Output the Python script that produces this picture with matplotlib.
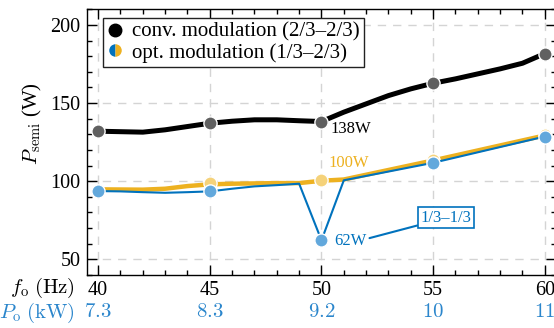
import numpy as np
import matplotlib
matplotlib.use('agg')
import matplotlib.pyplot as plt
from matplotlib.lines import Line2D
from matplotlib.ticker import MultipleLocator

plt.rcParams['font.family'] = 'serif'
plt.rcParams['font.serif'] = ['Liberation Serif', 'DejaVu Serif']
plt.rcParams['mathtext.fontset'] = 'cm'

# conventional modulation (2/3-2/3), line
conv_f = [40, 41, 42, 43, 44, 45, 46, 47, 48, 49, 50, 51, 52, 53, 54, 55, 56, 57, 58, 59, 60]
conv_p = [132.0, 131.7, 131.4, 132.9, 135.0, 137.1, 138.4, 139.3, 139.3, 138.7, 138.2,
          144.2, 149.5, 154.8, 159.1, 162.7, 165.5, 168.7, 171.9, 175.5, 181.7]

# optimised modulation (1/3-2/3), thick yellow line
opt_f = [40, 41, 42, 43, 44, 45, 46, 47, 48, 49, 50, 51, 55, 60]
opt_p = [94.8, 94.7, 94.6, 95.2, 96.9, 98.0, 98.4, 98.6, 98.8, 98.8, 100.3, 101.1, 113.3, 129.3]

# optimised modulation incl. 1/3-1/3 at 50 Hz, thin blue line
opt2_f = [40, 41, 42, 43, 44, 45, 46, 47, 48, 49, 50, 51, 55, 60]
opt2_p = [93.7, 93.5, 93.0, 92.6, 93.0, 93.5, 95.2, 96.7, 97.5, 98.4, 62.2, 100.6, 111.8, 128.6]

# marked operating points
mark_f = [40, 45, 50, 55, 60]
conv_mark = [132.0, 137.1, 138.2, 162.7, 181.7]
opt_mark = [94.8, 98.8, 100.5, 113.3, 129.3]
opt2_mark = [93.7, 93.5, 62.2, 111.8, 128.6]

f_ticks = [40, 45, 50, 55, 60]
p_out = ['7.3', '8.3', '9.2', '10', '11']

BLACK = '#000000'
GREY = '#606060'
YEL = '#EDB120'
YEL_L = '#F5D27A'
BLUE = '#0072BD'
BLUE_L = '#62A8DC'
BLUE_T = '#2B86CC'

fig = plt.figure(figsize=(5.54, 3.28), dpi=100)
ax = fig.add_axes([0.157, 0.1616, 0.8466, 0.81])

ax.plot(opt_f, opt_p, color=YEL, lw=3.2, zorder=3, solid_capstyle='round')
ax.plot(f_ticks[1:], opt_mark[1:], 'o', ms=9.5, mfc=YEL_L, mec='white', mew=1.0, zorder=4)
ax.plot(opt2_f, opt2_p, color=BLUE, lw=1.5, zorder=5)
ax.plot(mark_f, opt2_mark, 'o', ms=9.5, mfc=BLUE_L, mec='white', mew=1.0, zorder=6)
ax.plot(conv_f, conv_p, color=BLACK, lw=3.6, zorder=7, solid_capstyle='round')
ax.plot(mark_f, conv_mark, 'o', ms=9.5, mfc=GREY, mec='white', mew=1.0, zorder=8)

ax.set_xlim(39.5, 60.5)
ax.set_ylim(40, 210)
ax.xaxis.set_major_locator(MultipleLocator(5))
ax.xaxis.set_minor_locator(MultipleLocator(1))
ax.yaxis.set_major_locator(MultipleLocator(50))
ax.yaxis.set_minor_locator(MultipleLocator(10))
ax.tick_params(which='both', direction='in', top=True, right=True, labelsize=14.5, width=1)
ax.tick_params(which='major', length=7, pad=4.5)
ax.tick_params(which='minor', length=3.5)
for s in ax.spines.values():
    s.set_linewidth(1)
ax.grid(True, which='major', color='#d4d4d4', lw=1, dashes=(6, 5))
ax.set_axisbelow(True)

ax.set_ylabel(r'$P_\mathrm{semi}$ (W)', fontsize=15)
ax.yaxis.set_label_coords(-0.092, 0.57)

# second row of x labels: output power
for f, p in zip(f_ticks, p_out):
    ax.text(f, -0.143, r'$\mathrm{' + p + '}$', color=BLUE_T, fontsize=15,
            ha='center', va='center', transform=ax.get_xaxis_transform())
fig.text(0.1354, 0.122, r'$f_\mathrm{o}$ $\mathrm{(Hz)}$', fontsize=15, ha='right', va='center')
fig.text(0.1354, 0.046, r'$P_\mathrm{o}$ $\mathrm{(kW)}$', fontsize=15, ha='right', va='center',
         color=BLUE_T)

ax.text(50.4, 133.7, '138W', fontsize=12, color=BLACK, ha='left', va='center', zorder=9)
ax.text(50.3, 111.4, '100W', fontsize=12, color=YEL, ha='left', va='center', zorder=9)
ax.text(50.55, 61.6, '62W', fontsize=12, color=BLUE, ha='left', va='center', zorder=9)
ax.annotate('1/3–1/3', xy=(52.15, 63.6), xytext=(55.57, 76.5), fontsize=12, color=BLUE,
            ha='center', va='center', zorder=9,
            bbox=dict(boxstyle='square,pad=0.15', fc='white', ec=BLUE, lw=1.2),
            arrowprops=dict(arrowstyle='-', color=BLUE, lw=1.5, shrinkA=0, shrinkB=0))

handles = [
    Line2D([], [], ls='none', marker='o', ms=9, mfc=BLACK, mec=BLACK),
    Line2D([], [], ls='none', marker='o', ms=9, fillstyle='left', mfc=BLUE,
           mec='none', markerfacecoloralt=YEL),
]
leg = ax.legend(handles, ['conv. modulation (2/3–2/3)', 'opt. modulation (1/3–2/3)'],
                loc='upper left', bbox_to_anchor=(0.034, 0.967), fontsize=15, fancybox=False,
                framealpha=1, edgecolor='#222222', handlelength=0.8, handletextpad=0.4,
                borderpad=0.2, labelspacing=0.05, borderaxespad=0)
leg.get_frame().set_linewidth(1)
leg.set_zorder(10)

fig.savefig('out.png', dpi=100)
